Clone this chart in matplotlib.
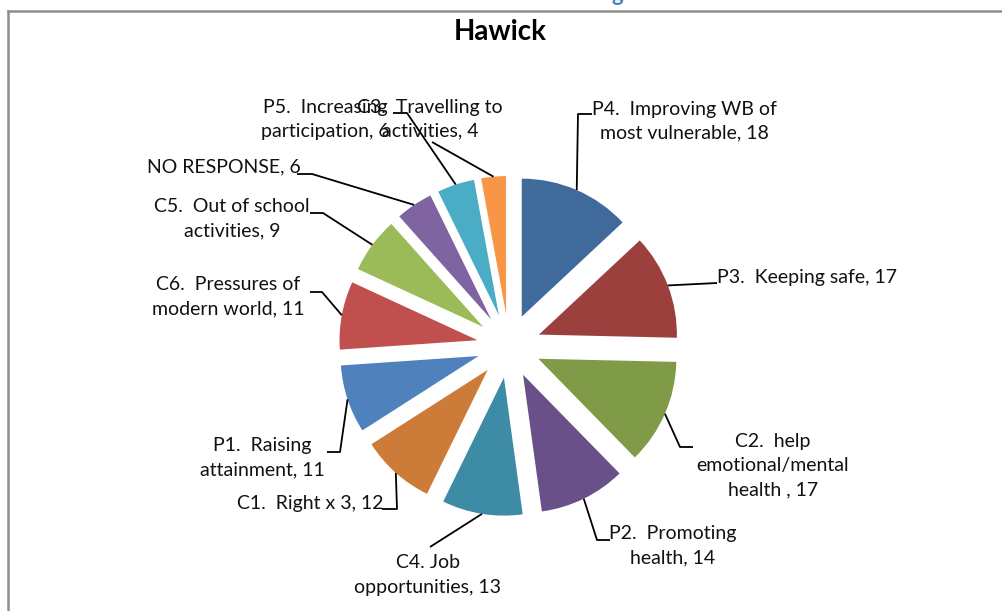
import matplotlib
matplotlib.use("Agg")
import matplotlib.pyplot as plt
import numpy as np

# survey counts per priority, clockwise from 12 o'clock
labels = ["P4.  Improving WB of\nmost vulnerable, 18",
          "P3.  Keeping safe, 17",
          "C2.  help\nemotional/mental\nhealth , 17",
          "P2.  Promoting\nhealth, 14",
          "C4. Job\nopportunities, 13",
          "C1.  Right x 3, 12",
          "P1.  Raising\nattainment, 11",
          "C6.  Pressures of\nmodern world, 11",
          "C5.  Out of school\nactivities, 9",
          "NO RESPONSE, 6",
          "P5.  Increasing\nparticipation, 6",
          "C3.  Travelling to\nactivities, 4"]
values = [18, 17, 17, 14, 13, 12, 11, 11, 9, 6, 6, 4]
colors = ["#3F6A9B", "#9C403E", "#7F9B48", "#6A5088", "#3D8BA4", "#CC7B38",
          "#4F81BD", "#C0504D", "#9BBB59", "#8064A2", "#4BACC6", "#F79646"]

W, H = 1002, 611
plt.rcParams['font.family'] = ['Lato', 'DejaVu Sans']

fig = plt.figure(figsize=(W / 100, H / 100), dpi=100)
ax = fig.add_axes([0, 0, 1, 1])

def py(y):
    # pixel row (from top) -> data y
    return H - y

# pie in pixel units
wedges, _ = ax.pie(values, colors=colors, startangle=90, counterclock=False,
                   radius=138, center=(509, py(346)), explode=[32] * len(values),
                   wedgeprops=dict(linewidth=0), frame=True)
ax.set_xlim(0, W)
ax.set_ylim(0, H)
ax.axis("off")

# label block centres and leader elbows (pixels from top-left)
label_pos = [(684, 121), (807, 277), (773, 466), (673, 546), (428, 575), (310, 503),
             (262, 458), (228, 297), (232, 219), (224, 167), (325, 119), (430, 119)]
leader_pts = [[(578, 114), (592, 114)],
              [(717, 283)],
              [(680, 447), (693, 447)],
              [(597, 540), (610, 540)],
              [(430, 547)],
              [(397, 509), (382, 509)],
              [(340, 452), (327, 452)],
              [(322, 292), (310, 292)],
              [(323, 213), (310, 213)],
              [(312, 174), (297, 174)],
              [(407, 113), (393, 113)],
              [(432, 142)]]

for w, lab, pos, pts in zip(wedges, labels, label_pos, leader_pts):
    th = np.radians((w.theta1 + w.theta2) / 2)
    cx, cy = w.center
    ax_ = cx + w.r * np.cos(th)
    ay_ = cy + w.r * np.sin(th)
    xs = [ax_] + [p[0] for p in pts]
    ys = [ay_] + [py(p[1]) for p in pts]
    ax.plot(xs, ys, color="black", lw=1.3, solid_capstyle="butt")
    ax.text(pos[0], py(pos[1]), lab, ha="center", va="center", ma="center",
            fontsize=14, color="#111111", linespacing=1.5)

ax.text(500, py(32), "Hawick", ha="center", va="center", fontsize=20,
        fontweight="bold", color="black")

# chart frame (gray, left and top only visible)
fig.add_artist(plt.Line2D([7.5 / W, 7.5 / W], [0, 1 - 10.5 / H], color="#8E8E8E", lw=1.8))
fig.add_artist(plt.Line2D([7.5 / W, 1], [1 - 10.5 / H, 1 - 10.5 / H], color="#8E8E8E", lw=1.8))

# tail of the page heading above the chart
fig.text(617 / W, 1 - 1 / H, "g", ha="center", va="baseline", fontsize=16,
         fontweight="bold", color="#4F81BD")

fig.savefig("out.png", dpi=100)
